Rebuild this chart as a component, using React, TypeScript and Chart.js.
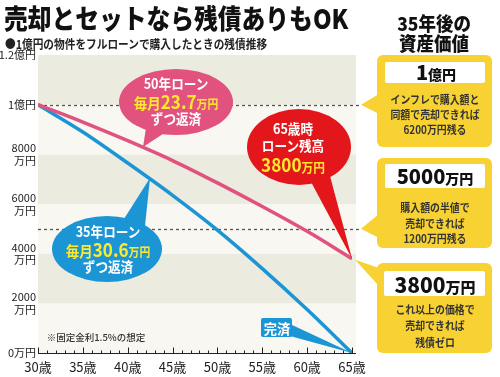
import React, { useEffect, useRef } from "react";
import { Chart, registerables } from "chart.js";
Chart.register(...registerables);

// ---- data ----
const ages = [30, 35, 40, 45, 50, 55, 60, 65];
const loan35 = [10000, 8900, 7650, 6350, 4950, 3400, 1750, 0];
const loan50 = [10000, 9300, 8550, 7750, 6850, 5900, 4900, 3800];
const yTickValues = [0, 2000, 4000, 6000, 8000, 10000, 12000];
const yTickLabels: (string | string[])[] = ["0万円", ["2000", "万円"], ["4000", "万円"], ["6000", "万円"], ["8000", "万円"], "1億円", "1.2億円"];
const xTickLabels = ["30歳", "35歳", "40歳", "45歳", "50歳", "55歳", "60歳", "65歳"];
const refLines = [10000, 5000];

const FONT = "'Noto Sans CJK JP','Noto Sans CJK SC','Noto Sans',sans-serif";
const BEIGE = "#ecebdf";
const LIGHT = "#f8f7f1";
const BLUE = "#1b95d4";
const PINK = "#e1527f";
const RED = "#e3161c";
const YELLOW = "#f7d232";
const YTEXT = "#ffe92e";

function poly(ctx: CanvasRenderingContext2D, pts: number[][], color: string) {
  ctx.beginPath();
  ctx.moveTo(pts[0][0], pts[0][1]);
  for (let i = 1; i < pts.length; i++) ctx.lineTo(pts[i][0], pts[i][1]);
  ctx.closePath();
  ctx.fillStyle = color;
  ctx.fill();
}
function ell(ctx: CanvasRenderingContext2D, cx: number, cy: number, rx: number, ry: number, color: string) {
  ctx.beginPath();
  ctx.ellipse(cx, cy, rx, ry, 0, 0, Math.PI * 2);
  ctx.fillStyle = color;
  ctx.fill();
}
function rrect(ctx: CanvasRenderingContext2D, x: number, y: number, w: number, h: number, r: number, color: string) {
  ctx.beginPath();
  (ctx as any).roundRect(x, y, w, h, r);
  ctx.fillStyle = color;
  ctx.fill();
}

const decoPlugin = {
  id: "deco",
  beforeDatasetsDraw(chart: any) {
    const { ctx, chartArea: a, scales } = chart;
    const y = scales.y;
    const right = a.right + 4;
    for (let i = 0; i < yTickValues.length - 1; i++) {
      const top = y.getPixelForValue(yTickValues[i + 1]);
      const bot = y.getPixelForValue(yTickValues[i]);
      ctx.fillStyle = i % 2 === 1 ? BEIGE : LIGHT;
      ctx.fillRect(a.left, top, right - a.left, bot - top);
    }
    ctx.save();
    ctx.setLineDash([3, 3]);
    ctx.strokeStyle = "#555";
    ctx.lineWidth = 1.3;
    refLines.forEach((v) => {
      const py = Math.round(y.getPixelForValue(v)) + 0.5;
      ctx.beginPath();
      ctx.moveTo(a.left, py);
      ctx.lineTo(362, py);
      ctx.stroke();
    });
    ctx.restore();
  },
  afterDatasetsDraw(chart: any) {
    const { ctx, chartArea: a, scales } = chart;
    const x = scales.x, y = scales.y;
    ctx.save();
    ctx.strokeStyle = "#222";
    ctx.lineWidth = 1;
    const by = Math.round(a.bottom) + 0.5;
    ctx.beginPath();
    ctx.moveTo(a.left, by);
    ctx.lineTo(a.right + 4, by);
    for (let age = ages[0]; age <= ages[ages.length - 1]; age++) {
      const px = Math.round(x.getPixelForValue(age)) + 0.5;
      const len = age % 5 === 0 ? 6 : 3;
      ctx.moveTo(px, by);
      ctx.lineTo(px, by - len);
    }
    ctx.stroke();

    const last = ages.length - 1;
    const pinkEnd = [x.getPixelForValue(ages[last]), y.getPixelForValue(loan50[last])];
    const blueEnd = [x.getPixelForValue(ages[last]), y.getPixelForValue(loan35[last])];

    // pink bubble
    ell(ctx, 176, 102, 57, 33, PINK);
    poly(ctx, [[146, 128], [166, 132], [143, 147]], PINK);
    // blue bubble
    ell(ctx, 107, 249, 55, 33, BLUE);
    poly(ctx, [[122, 222], [145, 226], [150, 178]], BLUE);
    // red bubble
    ell(ctx, 299, 147, 52, 38, RED);
    poly(ctx, [[310, 180], [330, 176], [pinkEnd[0], pinkEnd[1]]], RED);
    // 完済 label
    rrect(ctx, 261, 318, 31, 19, 2, BLUE);
    poly(ctx, [[290, 324], [290, 336], [blueEnd[0], blueEnd[1]]], BLUE);

    // right boxes
    const y1 = y.getPixelForValue(refLines[0]);
    const y2 = y.getPixelForValue(refLines[1]);
    rrect(ctx, 377, 55, 115, 92, 6, YELLOW);
    poly(ctx, [[379, 94], [379, 114], [361, y1]], YELLOW);
    rrect(ctx, 377, 158, 115, 90, 6, YELLOW);
    poly(ctx, [[379, 214], [379, 238], [361, y2]], YELLOW);
    rrect(ctx, 377, 263, 115, 90, 6, YELLOW);
    poly(ctx, [[379, 268], [379, 286], [pinkEnd[0] + 3, pinkEnd[1] + 1]], YELLOW);
    rrect(ctx, 385, 62, 100, 21, 2, "#fff");
    rrect(ctx, 385, 164, 100, 24, 2, "#fff");
    rrect(ctx, 384, 271, 101, 25, 2, "#fff");
    ctx.restore();
  },
};

type TP = { x: number; y: number; size: number; color?: string; weight?: number; sx?: number; children: any };
const T = ({ x, y, size, color = "#fff", weight = 700, sx = 1, children }: TP) => (
  <div
    style={{
      position: "absolute",
      left: x,
      top: y,
      transform: `translate(-50%,-50%) scaleX(${sx})`,
      whiteSpace: "nowrap",
      fontFamily: FONT,
      fontSize: size,
      fontWeight: weight,
      color,
      lineHeight: 1,
    }}
  >
    {children}
  </div>
);

export default function App() {
  const ref = useRef<HTMLCanvasElement | null>(null);
  useEffect(() => {
    if (!ref.current) return;
    const chart = new Chart(ref.current, {
      type: "line",
      data: {
        datasets: [
          {
            label: "50年ローン",
            data: ages.map((a, i) => ({ x: a, y: loan50[i] })),
            borderColor: PINK,
            borderWidth: 3.5,
            pointRadius: 0,
            cubicInterpolationMode: "monotone",
          },
          {
            label: "35年ローン",
            data: ages.map((a, i) => ({ x: a, y: loan35[i] })),
            borderColor: BLUE,
            borderWidth: 3.5,
            pointRadius: 0,
            cubicInterpolationMode: "monotone",
          },
        ],
      },
      options: {
        animation: false,
        responsive: false,
        devicePixelRatio: 1,
        layout: { padding: { top: 55, right: 148, left: 0, bottom: 0 } },
        plugins: { legend: { display: false }, tooltip: { enabled: false } },
        scales: {
          x: {
            type: "linear",
            min: ages[0],
            max: ages[ages.length - 1],
            grid: { display: false, drawTicks: false },
            border: { display: false },
            ticks: {
              stepSize: 5,
              autoSkip: false,
              maxRotation: 0,
              padding: 6,
              color: "#222",
              font: { family: FONT, size: 13 },
              callback: (v: any) => {
                const i = ages.indexOf(Number(v));
                return i >= 0 ? xTickLabels[i] : "";
              },
            },
            afterFit: (s: any) => {
              s.height = 24;
            },
          },
          y: {
            min: 0,
            max: 12000,
            grid: { display: false, drawTicks: false },
            border: { display: false },
            ticks: {
              stepSize: 2000,
              padding: 2,
              color: "#222",
              font: { family: FONT, size: 11, lineHeight: 1.15 },
              callback: (v: any) => {
                const i = yTickValues.indexOf(Number(v));
                return i >= 0 ? yTickLabels[i] : "";
              },
            },
            afterFit: (s: any) => {
              s.width = 38;
            },
          },
        },
      },
      plugins: [decoPlugin],
    } as any);
    return () => chart.destroy();
  }, []);

  return (
    <div style={{ position: "absolute", left: 0, top: 0, width: 500, height: 377, background: "#fff", overflow: "hidden" }}>
      <canvas ref={ref} width={500} height={377} style={{ position: "absolute", left: 0, top: 0, width: 500, height: 377 }} />
      <div
        style={{
          position: "absolute",
          left: 4,
          top: 3,
          fontFamily: FONT,
          fontWeight: 900,
          fontSize: 27,
          lineHeight: 1.1,
          color: "#111",
          whiteSpace: "nowrap",
          transform: "scaleX(0.88)",
          transformOrigin: "left top",
        }}
      >
        売却とセットなら残債ありもOK
      </div>
      <div
        style={{
          position: "absolute",
          left: 5,
          top: 37,
          fontFamily: FONT,
          fontWeight: 700,
          fontSize: 12,
          lineHeight: 1.1,
          color: "#222",
          whiteSpace: "nowrap",
          transform: "scaleX(0.89)",
          transformOrigin: "left top",
        }}
      >
        ●1億円の物件をフルローンで購入したときの残債推移
      </div>

      {/* pink bubble */}
      <T x={176} y={83} size={14} sx={0.9}>50年ローン</T>
      <T x={176} y={100} size={15} color={YTEXT} sx={0.9}>
        毎月<span style={{ fontSize: 19 }}>23.7</span><span style={{ fontSize: 12 }}>万円</span>
      </T>
      <T x={176} y={118} size={14} sx={0.9}>ずつ返済</T>

      {/* blue bubble */}
      <T x={108} y={231} size={14} sx={0.9}>35年ローン</T>
      <T x={108} y={248} size={15} color={YTEXT} sx={0.9}>
        毎月<span style={{ fontSize: 19 }}>30.6</span><span style={{ fontSize: 12 }}>万円</span>
      </T>
      <T x={108} y={266} size={14} sx={0.9}>ずつ返済</T>

      {/* red bubble */}
      <T x={293} y={128} size={14} sx={0.9}>65歳時</T>
      <T x={293} y={145} size={14} sx={0.9}>ローン残高</T>
      <T x={293} y={163} size={13} color={YTEXT} sx={0.9}>
        <span style={{ fontSize: 19 }}>3800</span>万円
      </T>

      <T x={276.5} y={327.5} size={14} sx={0.95}>完済</T>
      <T x={96} y={338} size={9.5} color="#333" weight={500}>※固定金利1.5%の想定</T>

      {/* right panel */}
      <T x={434} y={22} size={19} color="#111" weight={900} sx={0.92}>35年後の</T>
      <T x={434} y={42} size={19} color="#111" weight={900} sx={0.92}>資産価値</T>

      <T x={436} y={72} size={14} color="#111" weight={900}>
        <span style={{ fontSize: 20 }}>1</span>億円
      </T>
      <T x={435} y={99} size={11} color="#333" sx={0.9}>インフレで購入額と</T>
      <T x={435} y={114} size={11} color="#333" sx={0.9}>同額で売却できれば</T>
      <T x={435} y={129} size={11} color="#333" sx={0.9}>6200万円残る</T>

      <T x={435} y={176} size={14} color="#111" weight={900}>
        <span style={{ fontSize: 20 }}>5000</span>万円
      </T>
      <T x={435} y={207} size={11} color="#333" sx={0.9}>購入額の半値で</T>
      <T x={435} y={223} size={11} color="#333" sx={0.9}>売却できれば</T>
      <T x={435} y={238} size={11} color="#333" sx={0.9}>1200万円残る</T>

      <T x={435} y={284} size={15} color="#111" weight={900}>
        <span style={{ fontSize: 21 }}>3800</span>万円
      </T>
      <T x={435} y={309} size={11} color="#333" sx={0.9}>これ以上の価格で</T>
      <T x={435} y={325} size={11} color="#333" sx={0.9}>売却できれば</T>
      <T x={435} y={342} size={11} color="#333" sx={0.9}>残債ゼロ</T>
    </div>
  );
}
